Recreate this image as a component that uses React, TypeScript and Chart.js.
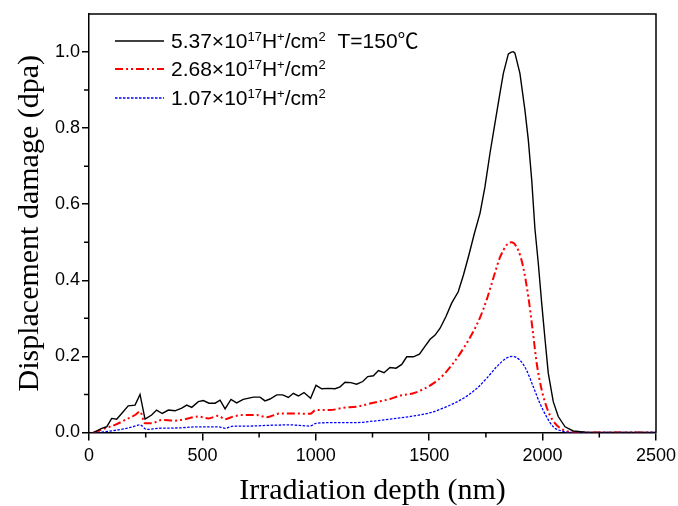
import React, { useEffect, useRef } from "react";
import { Chart, registerables } from "chart.js";

Chart.register(...registerables);

// ---- Data (depth in nm, displacement damage in dpa) ----
const depthHigh = [20, 56, 78, 100, 122, 144, 173, 203, 225, 247, 276, 298, 323, 350, 379, 409, 431, 453, 482, 504, 529, 556, 578, 600, 626, 651, 680, 725, 754, 776, 798, 828, 854, 879, 901, 923, 948, 977, 1001, 1026, 1055, 1085, 1107, 1129, 1154, 1180, 1207, 1229, 1254, 1276, 1301, 1327, 1354, 1379, 1401, 1430, 1457, 1482, 1504, 1526, 1548, 1574, 1599, 1628, 1651, 1673, 1700, 1724, 1746, 1768, 1790, 1812, 1827, 1849, 1862, 1871, 1878, 1900, 1922, 1937, 1952, 1966, 1981, 1996, 2011, 2025, 2047, 2069, 2099, 2135, 2200, 2500];
const damageHigh = [0, 0.011, 0.015, 0.037, 0.035, 0.05, 0.07, 0.072, 0.1, 0.035, 0.046, 0.059, 0.05, 0.059, 0.057, 0.064, 0.072, 0.066, 0.081, 0.084, 0.077, 0.077, 0.085, 0.062, 0.087, 0.078, 0.087, 0.093, 0.093, 0.083, 0.088, 0.099, 0.099, 0.092, 0.103, 0.096, 0.105, 0.09, 0.124, 0.115, 0.116, 0.115, 0.12, 0.132, 0.131, 0.127, 0.134, 0.147, 0.149, 0.163, 0.157, 0.171, 0.169, 0.179, 0.199, 0.199, 0.206, 0.227, 0.245, 0.256, 0.274, 0.305, 0.34, 0.37, 0.414, 0.462, 0.525, 0.576, 0.646, 0.734, 0.813, 0.892, 0.944, 0.995, 1.0, 1.001, 0.997, 0.944, 0.848, 0.769, 0.664, 0.537, 0.445, 0.34, 0.243, 0.156, 0.081, 0.042, 0.015, 0.004, 0, 0];

const depthMid = [20, 71, 115, 159, 203, 225, 247, 276, 320, 379, 423, 482, 526, 570, 600, 636, 680, 739, 783, 842, 916, 974, 1001, 1063, 1121, 1180, 1239, 1283, 1327, 1371, 1430, 1474, 1518, 1562, 1606, 1651, 1688, 1724, 1754, 1790, 1812, 1842, 1863, 1892, 1914, 1937, 1956, 1974, 1996, 2025, 2055, 2091, 2150, 2500];
const damageMid = [0, 0.011, 0.02, 0.033, 0.046, 0.055, 0.024, 0.024, 0.033, 0.031, 0.035, 0.042, 0.037, 0.044, 0.035, 0.042, 0.046, 0.046, 0.04, 0.05, 0.05, 0.049, 0.059, 0.059, 0.065, 0.068, 0.076, 0.082, 0.088, 0.097, 0.103, 0.114, 0.129, 0.151, 0.182, 0.221, 0.258, 0.302, 0.35, 0.42, 0.46, 0.493, 0.5, 0.48, 0.436, 0.357, 0.27, 0.182, 0.112, 0.055, 0.024, 0.007, 0, 0];

const depthLow = [20, 71, 129, 188, 225, 254, 305, 394, 482, 570, 600, 636, 710, 798, 886, 974, 1001, 1092, 1180, 1239, 1327, 1415, 1504, 1577, 1651, 1710, 1754, 1798, 1842, 1868, 1900, 1929, 1959, 1988, 2017, 2047, 2084, 2150, 2500];
const damageLow = [0, 0.002, 0.007, 0.014, 0.02, 0.008, 0.011, 0.012, 0.015, 0.015, 0.011, 0.017, 0.017, 0.019, 0.02, 0.017, 0.024, 0.026, 0.026, 0.029, 0.035, 0.042, 0.052, 0.068, 0.09, 0.116, 0.143, 0.173, 0.196, 0.2, 0.19, 0.164, 0.12, 0.077, 0.042, 0.015, 0.004, 0, 0];

const yTickValues = [0, 0.2, 0.4, 0.6, 0.8, 1.0];
const yMinorValues = [0.1, 0.3, 0.5, 0.7, 0.9];
const xMinorValues = [250, 750, 1250, 1750, 2250];

type Part = { t: string; sup?: boolean };
const legendHigh: Part[] = [{ t: "5.37×10" }, { t: "17", sup: true }, { t: "H" }, { t: "+", sup: true }, { t: "/cm" }, { t: "2", sup: true }, { t: "  T=150℃" }];
const legendMid: Part[] = [{ t: "2.68×10" }, { t: "17", sup: true }, { t: "H" }, { t: "+", sup: true }, { t: "/cm" }, { t: "2", sup: true }];
const legendLow: Part[] = [{ t: "1.07×10" }, { t: "17", sup: true }, { t: "H" }, { t: "+", sup: true }, { t: "/cm" }, { t: "2", sup: true }];
const legendRows = [legendHigh, legendMid, legendLow];

const toPoints = (xs: number[], ys: number[]) => xs.map((x, i) => ({ x, y: ys[i] }));

const SANS = "'Liberation Sans', Arial, 'Noto Sans CJK SC', sans-serif";
const SERIF = "'Liberation Serif', 'Times New Roman', serif";

const decorPlugin = {
  id: "decor",
  afterDraw(chart: any) {
    const { ctx, chartArea: a, scales } = chart;
    ctx.save();
    ctx.strokeStyle = "#000";
    ctx.lineWidth = 1.5;
    ctx.beginPath();
    ctx.moveTo(a.left, a.top);
    ctx.lineTo(a.right, a.top);
    ctx.lineTo(a.right, a.bottom);
    ctx.stroke();
    ctx.beginPath();
    xMinorValues.forEach((v) => {
      const px = scales.x.getPixelForValue(v);
      ctx.moveTo(px, a.bottom);
      ctx.lineTo(px, a.bottom + 5);
    });
    yMinorValues.forEach((v) => {
      const py = scales.y.getPixelForValue(v);
      ctx.moveTo(a.left, py);
      ctx.lineTo(a.left - 5, py);
    });
    ctx.stroke();

    // legend
    const rowY = [41, 69, 98];
    const sampleX0 = 115;
    const sampleX1 = 164;
    const textX = 171;
    chart.data.datasets.forEach((ds: any, i: number) => {
      const y = rowY[i];
      ctx.save();
      ctx.strokeStyle = ds.borderColor;
      ctx.lineWidth = ds.borderWidth;
      ctx.setLineDash(ds.borderDash || []);
      ctx.beginPath();
      ctx.moveTo(sampleX0, y);
      ctx.lineTo(sampleX1, y);
      ctx.stroke();
      ctx.restore();
      let x = textX;
      const base = y + 7;
      ctx.fillStyle = "#000";
      ctx.textBaseline = "alphabetic";
      ctx.textAlign = "left";
      legendRows[i].forEach((p) => {
        ctx.font = p.sup ? `13px ${SANS}` : `21px ${SANS}`;
        ctx.fillText(p.t, x, p.sup ? base - 7 : base);
        x += ctx.measureText(p.t).width;
      });
    });
    ctx.restore();
  },
};

export default function App() {
  const ref = useRef<HTMLCanvasElement | null>(null);
  useEffect(() => {
    if (!ref.current) return;
    const chart = new Chart(ref.current, {
      type: "line",
      data: {
        datasets: [
          {
            label: "5.37e17",
            data: toPoints(depthHigh, damageHigh),
            borderColor: "#000000",
            borderWidth: 1.4,
            pointRadius: 0,
            tension: 0,
          },
          {
            label: "2.68e17",
            data: toPoints(depthMid, damageMid),
            borderColor: "#ff0000",
            borderWidth: 2,
            borderDash: [8, 3, 2, 3, 2, 3],
            pointRadius: 0,
            cubicInterpolationMode: "monotone",
          },
          {
            label: "1.07e17",
            data: toPoints(depthLow, damageLow),
            borderColor: "#0000ff",
            borderWidth: 1.3,
            borderDash: [2.5, 1.5],
            pointRadius: 0,
            cubicInterpolationMode: "monotone",
          },
        ],
      },
      options: {
        responsive: false,
        animation: false,
        layout: { padding: { top: 14, right: 22, left: 0, bottom: 0 } },
        plugins: { legend: { display: false }, tooltip: { enabled: false } },
        scales: {
          x: {
            type: "linear",
            min: 0,
            max: 2500,
            afterFit: (s: any) => {
              s.height = 73.5;
              s.paddingLeft = 0;
              s.paddingRight = 0;
            },
            ticks: {
              stepSize: 500,
              color: "#000",
              font: { family: SANS, size: 18 },
              padding: 5,
              maxRotation: 0,
              callback: (v: any) => String(v),
            },
            grid: { display: true, drawOnChartArea: false, drawTicks: true, tickLength: 8, color: "#000", lineWidth: 1.5 },
            border: { display: true, color: "#000", width: 1.5 },
            title: {
              display: true,
              text: "Irradiation depth (nm)",
              color: "#000",
              font: { family: SERIF, size: 30, lineHeight: 1 },
              padding: { top: 0, bottom: 0 },
            },
          },
          y: {
            type: "linear",
            min: 0,
            max: 1.1,
            afterFit: (s: any) => {
              s.width = 89;
              s.paddingTop = 0;
              s.paddingBottom = 0;
            },
            afterBuildTicks: (s: any) => {
              s.ticks = yTickValues.map((v) => ({ value: v }));
            },
            ticks: {
              color: "#000",
              font: { family: SANS, size: 18 },
              padding: 2,
              callback: (v: any) => Number(v).toFixed(1),
            },
            grid: { display: true, drawOnChartArea: false, drawTicks: true, tickLength: 7, color: "#000", lineWidth: 1.5 },
            border: { display: true, color: "#000", width: 1.5 },
            title: {
              display: true,
              text: "Displacement damage (dpa)",
              color: "#000",
              font: { family: SERIF, size: 30, lineHeight: 1 },
              padding: { top: 15, bottom: 0 },
            },
          },
        },
      },
      plugins: [decorPlugin],
    });
    return () => chart.destroy();
  }, []);
  return (
    <div style={{ position: "absolute", left: 0, top: 0, width: 678, height: 506, background: "#fff" }}>
      <canvas ref={ref} width={678} height={506} />
    </div>
  );
}
